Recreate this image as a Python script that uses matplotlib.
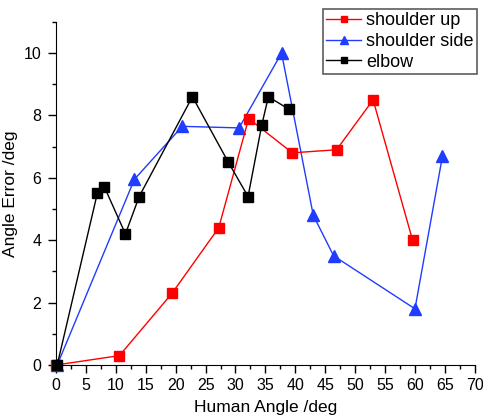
import matplotlib.pyplot as plt
from matplotlib.ticker import MultipleLocator

plt.rcParams['font.family'] = ['Liberation Sans', 'DejaVu Sans']

# shoulder up (red squares)
up_x = [0, 10.6, 19.4, 27.2, 32.2, 39.5, 46.9, 53.0, 59.6]
up_y = [0, 0.3, 2.3, 4.4, 7.9, 6.8, 6.9, 8.5, 4.0]

# shoulder side (blue triangles)
side_x = [0.2, 13.1, 21.1, 30.6, 37.7, 43.0, 46.4, 60.0, 64.6]
side_y = [0, 5.95, 7.65, 7.6, 10.0, 4.8, 3.5, 1.8, 6.7]

# elbow (black squares)
elbow_x = [0.2, 6.9, 8.1, 11.6, 13.9, 22.8, 28.8, 32.1, 34.4, 35.5, 38.9]
elbow_y = [0, 5.5, 5.7, 4.2, 5.4, 8.6, 6.5, 5.4, 7.7, 8.6, 8.2]

fig = plt.figure(figsize=(4.83, 4.2), dpi=100)
ax = fig.add_axes([0.116, 0.131, 0.867, 0.817])

l1, = ax.plot(up_x, up_y, color='#ff0000', marker='s', markersize=6.5,
              linewidth=1, label='shoulder up', zorder=3, clip_on=False)
l2, = ax.plot(side_x, side_y, color='#1f3cff', marker='^', markersize=8,
              linewidth=1, label='shoulder side', zorder=2, clip_on=False)
l3, = ax.plot(elbow_x, elbow_y, color='#000000', marker='s', markersize=6.5,
              linewidth=1, label='elbow', zorder=4, clip_on=False)

ax.set_xlim(0, 70)
ax.set_ylim(0, 11)
ax.xaxis.set_major_locator(MultipleLocator(5))
ax.xaxis.set_minor_locator(MultipleLocator(2.5))
ax.yaxis.set_major_locator(MultipleLocator(2))
ax.yaxis.set_minor_locator(MultipleLocator(1))
ax.tick_params(which='major', direction='out', length=5.5, width=1,
               labelsize=11.5)
ax.tick_params(axis='x', which='major', pad=4)
ax.tick_params(axis='y', which='major', pad=5)
ax.tick_params(which='minor', direction='out', length=3, width=1)

for s in ['top', 'right']:
    ax.spines[s].set_visible(False)

ax.set_xlabel('Human Angle /deg', fontsize=12.5, labelpad=5)
ax.set_ylabel('Angle Error /deg', fontsize=12.5, labelpad=4)

leg = fig.legend(handles=[l1, l2, l3], loc='upper right',
                 bbox_to_anchor=(0.988, 0.979), fontsize=13, frameon=True,
                 fancybox=False, edgecolor='#333333', handlelength=1.9,
                 markerscale=0.75, borderpad=0.2, labelspacing=0.2,
                 handletextpad=0.3, borderaxespad=0)
leg.get_frame().set_linewidth(1.2)

fig.savefig('out.png', dpi=100)
